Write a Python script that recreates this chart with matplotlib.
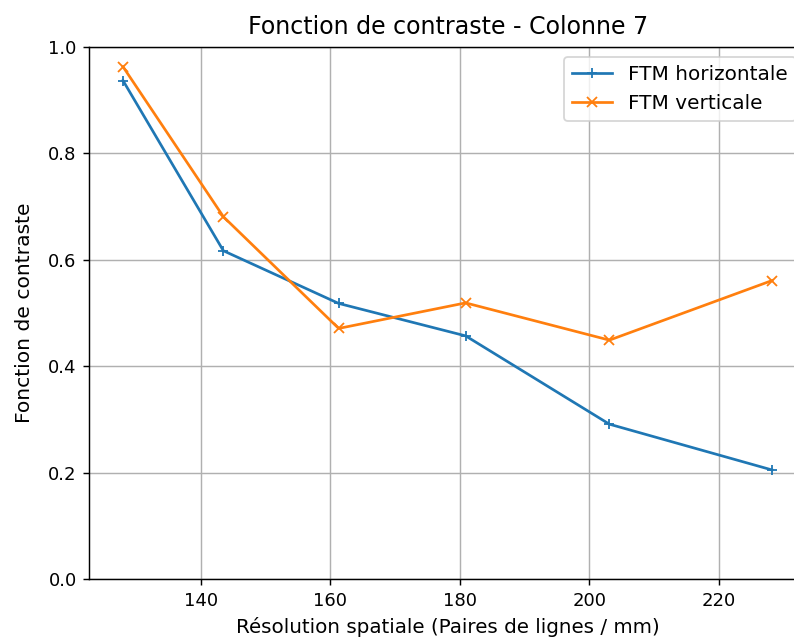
import matplotlib
matplotlib.use('Agg')
import matplotlib.pyplot as plt

# Résolution spatiale (paires de lignes / mm) et FTM mesurées
resolution = [128.0, 143.5, 161.3, 180.9, 203.1, 228.2]
ftm_horizontale = [0.937, 0.617, 0.518, 0.457, 0.291, 0.205]
ftm_verticale = [0.963, 0.681, 0.471, 0.519, 0.449, 0.561]

dpi = 130
fig = plt.figure(figsize=(794 / dpi, 642 / dpi), dpi=dpi)
# axes extend a little beyond the right border of the saved image
ax = fig.add_axes([89.3 / 794, 1 - 579 / 642, (806 - 89.3) / 794, (579 - 47) / 642])

ax.plot(resolution, ftm_horizontale, marker='+', label='FTM horizontale')
ax.plot(resolution, ftm_verticale, marker='x', label='FTM verticale')

ax.set_ylim(0, 1)
ax.set_xlim(122.8, 233.45)
ax.spines['right'].set_visible(False)
ax.set_title('Fonction de contraste - Colonne 7', fontsize=13.2, pad=7)
ax.set_xlabel('Résolution spatiale (Paires de lignes / mm)', fontsize=11)
ax.set_ylabel('Fonction de contraste', fontsize=11.2, labelpad=8)
ax.grid(True)
ax.legend(loc='upper right', fontsize=11.1)

fig.savefig('out.png', dpi=dpi)
